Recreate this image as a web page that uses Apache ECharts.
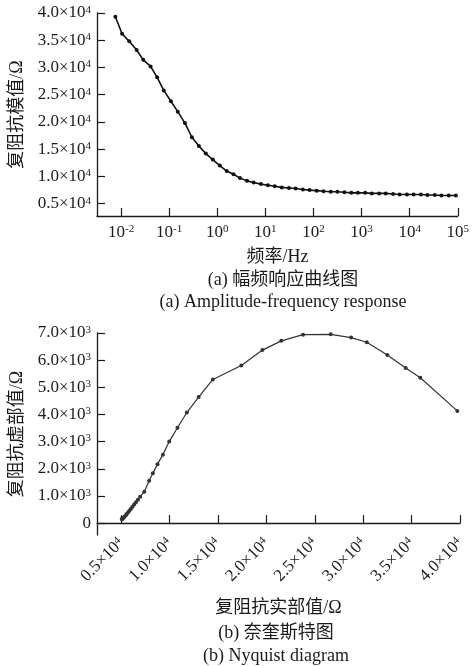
<!DOCTYPE html>
<html>
<head>
    <meta charset="utf-8">
    <title></title>
    <style type="text/css">
        html,
        body {
            margin: 0;
            padding: 0;
            background: #fff;
        }

        #main {
            width: 472px;
            height: 666px;
        }
    </style>
</head>

<body>
    <div id="main"></div>
    <script src="https://cdn.jsdelivr.net/npm/echarts@6/dist/echarts.min.js"></script>
    <script type="text/javascript">
        // (a) amplitude-frequency response
        var freqHz = [0.00762, 0.0105, 0.0148, 0.0211, 0.0289, 0.0411, 0.0562, 0.0773, 0.109, 0.151,
            0.213, 0.297, 0.415, 0.578, 0.807, 1.13, 1.57, 2.18, 2.97, 4.15,
            5.68, 8.07, 11.3, 15.7, 21.9, 31.0, 42.7, 60.4, 83.0, 117,
            162, 229, 315, 440, 612, 839, 1190, 1630, 2320, 3180,
            4520, 6180, 8790, 12100, 17100, 23400, 33300, 45600, 64900, 91800];
        var impedanceMag = [39300, 36200, 34800, 33200, 31400, 30200, 28200, 25800, 23800, 21900,
            19800, 17200, 15600, 14200, 13100, 12000, 11000, 10400, 9700, 9200,
            8900, 8600, 8400, 8200, 8000, 7900, 7800, 7600, 7500, 7400,
            7300, 7200, 7200, 7100, 7000, 7000, 7000, 6900, 6900, 6900,
            6800, 6700, 6700, 6700, 6700, 6600, 6600, 6500, 6500, 6500];
        var freqTicks = [0.01, 0.1, 1, 10, 100, 1000, 10000, 100000];
        var magTicks = [5000, 10000, 15000, 20000, 25000, 30000, 35000, 40000];

        // (b) Nyquist diagram
        var nyqReal = [5050, 5100, 5180, 5260, 5360, 5470, 5590, 5720, 5860, 6010,
            6170, 6340, 6520, 6730, 6960, 7380, 7890, 8270, 8750, 9310,
            9960, 10810, 11780, 13000, 14470, 17410, 19590, 21540, 23790, 26650,
            28750, 30370, 32490, 34390, 35900, 39720];
        var nyqImag = [150, 140, 170, 200, 240, 290, 340, 400, 460, 530,
            600, 680, 770, 860, 970, 1150, 1560, 1830, 2170, 2520,
            3000, 3510, 4070, 4640, 5290, 5800, 6370, 6710, 6940, 6950,
            6830, 6660, 6190, 5710, 5350, 4130];
        var realTicks = [5000, 10000, 15000, 20000, 25000, 30000, 35000, 40000];
        var imagTicks = [0, 1000, 2000, 3000, 4000, 5000, 6000, 7000];

        var FONT = '"Liberation Serif", "Times New Roman", "Noto Sans CJK SC", serif';
        var INK = '#1a1a1a';
        var rich = {
            b: { fontSize: 17, fontFamily: FONT, color: INK },
            s: { fontSize: 11, fontFamily: FONT, color: INK, verticalAlign: 'top' }
        };

        function sci(exp) {
            return function (v) {
                if (v === 0) return '{b|0}';
                return '{b|' + (v / Math.pow(10, exp)).toFixed(1) + '×10}{s|' + exp + '}';
            };
        }

        function axisCommon() {
            return {
                axisLine: { lineStyle: { color: INK, width: 1.3 } },
                axisTick: { inside: true, length: 8, lineStyle: { color: INK, width: 1.2 } },
                splitLine: { show: false },
                nameTextStyle: { fontSize: 18, fontFamily: FONT, color: INK }
            };
        }

        var myChart;
        window.onload = function () {
            myChart = echarts.init(document.getElementById('main'));

            var xTop = axisCommon();
            xTop.gridIndex = 0;
            xTop.type = 'log';
            xTop.logBase = 10;
            xTop.min = Math.pow(10, -2.5);
            xTop.max = 100000;
            xTop.name = '频率/Hz';
            xTop.nameLocation = 'middle';
            xTop.nameGap = 32;
            xTop.axisTick.customValues = freqTicks;
            xTop.axisLabel = {
                customValues: freqTicks,
                margin: 8,
                formatter: function (v) {
                    return '{b|10}{s|' + Math.round(Math.log10(v)) + '}';
                },
                rich: rich
            };

            var yTop = axisCommon();
            yTop.gridIndex = 0;
            yTop.type = 'value';
            yTop.min = 2750;
            yTop.max = 40000;
            yTop.name = '复阻抗模值/Ω';
            yTop.nameLocation = 'middle';
            yTop.nameGap = 70;
            yTop.axisTick.customValues = magTicks;
            yTop.axisLabel = { customValues: magTicks, margin: 6, formatter: sci(4), rich: rich };

            var xBot = axisCommon();
            xBot.gridIndex = 1;
            xBot.type = 'value';
            xBot.min = 2500;
            xBot.max = 40000;
            xBot.name = '复阻抗实部值/Ω';
            xBot.nameLocation = 'middle';
            xBot.nameGap = 64;
            xBot.axisTick.customValues = realTicks;
            xBot.axisLabel = { customValues: realTicks, margin: 6, rotate: 45, formatter: sci(4), rich: rich };

            var yBot = axisCommon();
            yBot.gridIndex = 1;
            yBot.type = 'value';
            yBot.min = -440;
            yBot.max = 7000;
            yBot.name = '复阻抗虚部值/Ω';
            yBot.nameLocation = 'middle';
            yBot.nameGap = 70;
            yBot.axisTick.customValues = imagTicks;
            yBot.axisLabel = { customValues: imagTicks, margin: 6, formatter: sci(3), rich: rich };

            myChart.setOption({
                animation: false,
                backgroundColor: '#fff',
                grid: [
                    { left: 97, top: 13, width: 363, height: 203 },
                    { left: 97, top: 333, width: 363, height: 202 }
                ],
                xAxis: [xTop, xBot],
                yAxis: [yTop, yBot],
                series: [{
                    type: 'line',
                    xAxisIndex: 0,
                    yAxisIndex: 0,
                    data: freqHz.map(function (f, i) { return [f, impedanceMag[i]]; }),
                    symbol: 'circle',
                    symbolSize: 4,
                    lineStyle: { color: '#111', width: 1.6 },
                    itemStyle: { color: '#111' }
                }, {
                    type: 'line',
                    xAxisIndex: 1,
                    yAxisIndex: 1,
                    data: nyqReal.map(function (r, i) { return [r, nyqImag[i]]; }),
                    symbol: 'circle',
                    symbolSize: 4,
                    lineStyle: { color: '#333', width: 1.2 },
                    itemStyle: { color: '#333' }
                }],
                graphic: [
                    { type: 'text', x: 283, y: 280, style: { text: '(a) 幅频响应曲线图', font: '18px ' + FONT, fill: INK, textAlign: 'center', textVerticalAlign: 'middle' } },
                    { type: 'text', x: 283, y: 302, style: { text: '(a) Amplitude-frequency response', font: '18px ' + FONT, fill: INK, textAlign: 'center', textVerticalAlign: 'middle' } },
                    { type: 'text', x: 276, y: 633, style: { text: '(b) 奈奎斯特图', font: '18px ' + FONT, fill: INK, textAlign: 'center', textVerticalAlign: 'middle' } },
                    { type: 'text', x: 276, y: 656, style: { text: '(b) Nyquist diagram', font: '18px ' + FONT, fill: INK, textAlign: 'center', textVerticalAlign: 'middle' } }
                ]
            });
        };
    </script>
</body>
</html>
